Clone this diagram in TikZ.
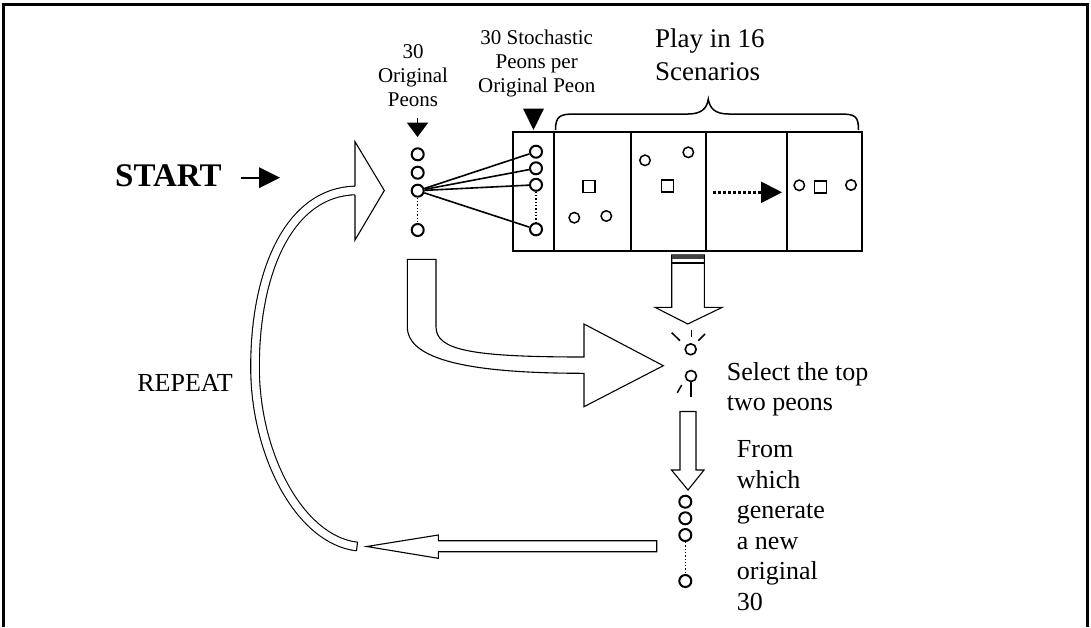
\documentclass[tikz,border=0pt]{standalone}
\usepackage{fontspec}
\setmainfont{Liberation Serif}
\usetikzlibrary{arrows.meta}
\begin{document}
\begin{tikzpicture}[x=1pt,y=-1pt,
  peon/.style={circle, draw, line width=2pt, minimum size=12pt, inner sep=0pt},
  spot/.style={circle, draw, line width=1.5pt, minimum size=10.5pt, inner sep=0pt},
  sq/.style={rectangle, draw, line width=1.5pt, minimum size=12pt, inner sep=0pt},
  hollow/.style={draw, fill=white, line width=1.1pt, line join=miter},
  lbl/.style={inner sep=0pt, font=\fontsize{21}{24}\selectfont, align=center},
  big/.style={inner sep=0pt, font=\fontsize{26}{30.5}\selectfont, align=left},
  fan/.style={line width=1.6pt},
  dots/.style={dotted, line width=1.3pt}]
\useasboundingbox (0,0) rectangle (1091,627);
% frame
\draw[line width=3pt] (3,627) -- (3,4.5) -- (1087.5,4.5) -- (1087.5,627);

% labels
\node[lbl] (t30) at (413,76) {30\\Original\\Peons};
\node[lbl] (tst) at (536.7,63) {30 Stochastic\\Peons per\\Original Peon};
\node[inner sep=0pt, font=\fontsize{27}{33}\selectfont, align=left, anchor=west] (play) at (655,55) {Play in 16\\Scenarios};
\node[inner sep=0pt, font=\fontsize{33}{36}\selectfont\bfseries, anchor=base west] (start) at (115,186.7) {START};
\node[inner sep=0pt, font=\fontsize{26}{30}\selectfont, anchor=base] (rep) at (185,391.6) {REPEAT};
\node[big, anchor=west] (sel) at (726.7,389) {Select the top\\two peons};
\node[big, anchor=west] (from) at (736.7,525.6) {From\\which\\generate\\a new\\original\\30};

% START arrow
\coordinate (sa) at (241,177.7);
\coordinate (sb) at (259,177.7);
\draw[line width=2pt] (sa) -- (sb);
\fill (259,167.2) -- (280,177.7) -- (259,188.2) -- cycle;

% scenario box
\draw[line width=2pt] (512.7,131.7) rectangle (862,250.5);
\foreach \xx in {554.3,630.7,705.7,786.7}
  \draw[line width=2pt] (\xx,131.7) -- (\xx,250.5);
% brace
\draw[line width=1.5pt] (555.5,130) .. controls (555.5,116) and (560,114) .. (575,114) -- (688,114)
  .. controls (702,114) and (707,108) .. (708.3,99) .. controls (709.6,108) and (714.6,114) .. (728.6,114)
  -- (840,114) .. controls (855,114) and (858.5,116) .. (858.5,130);

% original peons
\node[peon] (o1) at (417.7,154.3) {};
\node[peon] (o2) at (417.7,172.7) {};
\node[peon] (o3) at (417.7,190.7) {};
\node[peon] (o4) at (417.7,230) {};
\draw[dots] (o3) -- (o4);
\coordinate (ota) at (417.5,118);
\coordinate (otb) at (417.5,124);
\draw[line width=1.6pt] (ota) -- (otb);
\fill (406.7,122.5) -- (428.3,122.5) -- (417.5,137) -- cycle;

% stochastic peons
\node[peon] (s1) at (536,151.7) {};
\node[peon] (s2) at (536,168.3) {};
\node[peon] (s3) at (536,184.8) {};
\node[peon] (s4) at (536,229.3) {};
\draw[dots] (s3) -- (s4);
\foreach \s in {s1,s2,s3,s4} \draw[fan] (o3) -- (\s);
\fill (523,108.5) -- (544,108.5) -- (533.5,130) -- cycle;

% scenario panels
\node[sq] (q1) at (589,186.7) {};
\node[spot] (c1a) at (574.3,217.7) {};
\node[spot] (c1b) at (606.3,216) {};
\node[sq] (q2) at (667.3,186) {};
\node[spot] (c2a) at (645,160.3) {};
\node[spot] (c2b) at (688.3,152.3) {};
\coordinate (da) at (713,192.3);
\coordinate (db) at (762,192.3);
\draw[line width=2.5pt, dash pattern=on 3pt off 2pt] (da) -- (db);
\fill (761,181.5) -- (782,192.3) -- (761,203.1) -- cycle;
\node[sq] (q4) at (820.7,187) {};
\node[spot] (c4a) at (799.3,185.3) {};
\node[spot] (c4b) at (851,185) {};

% down arrow from box (striped top)
\draw[hollow] (671.7,255) -- (671.7,307.3) -- (655,307.3) -- (687.7,324) -- (722.3,307.3) -- (704.3,307.3) -- (704.3,255) -- cycle;
\fill[black!75] (671.7,255) rectangle (704.3,258.5);
\draw[line width=1.5pt] (671.7,262.8) -- (704.3,262.8);

% selected peons
\node[peon, line width=1.6pt, minimum size=11pt] (p1) at (690.7,349.3) {};
\node[peon, line width=1.6pt, minimum size=11pt] (p2) at (691,376) {};
\draw[line width=1.5pt] (671.7,332.7) -- (680,340.7);
\draw[line width=1.5pt] (691.7,330) -- (691.7,337.3);
\draw[line width=1.5pt] (698.3,340.7) -- (705,334);
\draw[line width=1.5pt] (p2.south) -- (691,396.7);
\draw[line width=1.5pt] (677.3,392.7) -- (681.7,385);

% curved arrow from original peons to selection
\draw[hollow] (407.3,259.3) -- (436,259.3) -- (436,326.7) .. controls (436,350) and (470,357) .. (584,357)
  -- (584,324) -- (663.3,365.7) -- (584,406.7) -- (584,373.3)
  .. controls (470,373.3) and (407.3,360) .. (407.3,326.7) -- cycle;

% down arrow to new population
\draw[hollow] (680,411.5) -- (680,470) -- (671.5,470) -- (688,490) -- (704,470) -- (696,470) -- (696,411.5) -- cycle;

% new peons
\node[peon] (n1) at (685.3,501.7) {};
\node[peon] (n2) at (685.3,518.3) {};
\node[peon] (n3) at (685.3,535) {};
\node[peon] (n4) at (685.3,581) {};
\draw[dots] (n3) -- (n4);

% left arrow
\draw[hollow] (656.7,540.7) -- (438.3,540.7) -- (438.3,535) -- (366.7,546.5) -- (438.3,558.3) -- (438.3,551.7) -- (656.7,551.7) -- cycle;

% repeat curved arrow
\draw[line width=1.1pt, double=white, double distance=7.5pt]
  (355,190.5) .. controls (290,192) and (255,270) .. (255,367)
  .. controls (255,455) and (300,540) .. (357,546.5);
\draw[line width=1.1pt] (357.5,542.2) -- (356.5,550.8);
\draw[hollow] (355,186.2) -- (355,141.7) -- (384.3,190.5) -- (355,240) -- (355,194.8);
\end{tikzpicture}
\end{document}
